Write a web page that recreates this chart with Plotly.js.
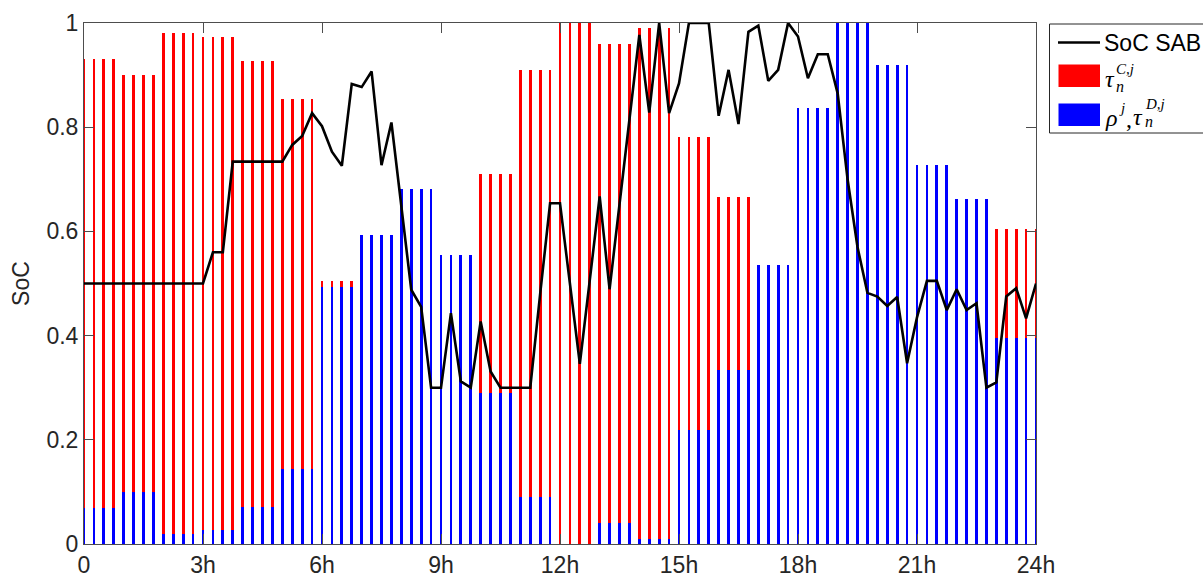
<!DOCTYPE html>
<html>
<head>
<meta charset="utf-8">
<script src="https://cdn.plot.ly/plotly-3.0.1.min.js"></script>
<style>
  html, body { margin: 0; padding: 0; background: #fff; }
  #chart { width: 1203px; height: 580px; }
</style>
</head>
<body>
<div id="chart"></div>
<script>
// Hourly charging window tops (tau^C) and discharging levels (rho / tau^D), hours 0..23
const hours = [0,1,2,3,4,5,6,7,8,9,10,11,12,13,14,15,16,17,18,19,20,21,22,23];
const chargeTop = [0.93, 0.90, 0.98, 0.973, 0.928, 0.855, 0.505, 0, 0, 0, 0.711, 0.909,
                   1.0, 0.959, 0.991, 0.781, 0.666, 0, 0, 0, 0, 0, 0, 0.605];
const dischargeTop = [0.07, 0.10, 0.02, 0.027, 0.071, 0.144, 0.494, 0.594, 0.682, 0.554, 0.289, 0.09,
                      0, 0.041, 0.009, 0.219, 0.334, 0.536, 0.836, 1.0, 0.919, 0.727, 0.662, 0.395];

// State of charge every 15 minutes, 0h..24h
const socTime = [];
for (let k = 0; k <= 96; k++) socTime.push(k / 4);
const soc = [
  0.50, 0.50, 0.50, 0.50, 0.50, 0.50, 0.50, 0.50, 0.50, 0.50, 0.50, 0.50,
  0.50, 0.56, 0.56, 0.734, 0.734, 0.734, 0.734, 0.734, 0.734, 0.766, 0.783, 0.827,
  0.802, 0.753, 0.726, 0.883, 0.877, 0.907, 0.727, 0.809, 0.65, 0.488, 0.455, 0.30,
  0.30, 0.443, 0.312, 0.30, 0.427, 0.331, 0.30, 0.30, 0.30, 0.30, 0.48, 0.654,
  0.654, 0.50, 0.346, 0.506, 0.667, 0.489, 0.652, 0.814, 0.977, 0.828, 1.0, 0.827,
  0.884, 1.0, 1.0, 1.0, 0.822, 0.91, 0.806, 0.983, 0.995, 0.889, 0.91, 1.0,
  0.974, 0.894, 0.94, 0.94, 0.865, 0.70, 0.57, 0.482, 0.475, 0.457, 0.474, 0.347,
  0.435, 0.505, 0.505, 0.449, 0.489, 0.449, 0.462, 0.30, 0.31, 0.475, 0.491, 0.433,
  0.50
];

const xTickVals = [0, 3, 6, 9, 12, 15, 18, 21, 24];
const xTickText = ['0', '3h', '6h', '9h', '12h', '15h', '18h', '21h', '24h'];
const yTickVals = [0, 0.2, 0.4, 0.6, 0.8, 1];
const yTickText = ['0', '0.2', '0.4', '0.6', '0.8', '1'];

// Each hourly value is held over its four quarter-hour slots; the slot at 24h repeats hour 23
const barX = [], barCharge = [], barDischarge = [];
for (let k = 0; k <= 96; k++) {
  const h = Math.min(Math.floor(k / 4), hours.length - 1);
  barX.push(k / 4);
  barCharge.push(chargeTop[h]);
  barDischarge.push(dischargeTop[h]);
}

const W = 1203, H = 580;
const M = { l: 84, r: 167, t: 23, b: 36 };
const plotW = W - M.l - M.r, plotH = H - M.t - M.b;
const px = v => (v - M.l) / plotW;      // pixel column -> paper x
const py = v => (H - M.b - v) / plotH;  // pixel row -> paper y

const axisFont = { family: 'Liberation Sans, Arial, sans-serif', size: 23, color: '#262626' };
const mathFont = (s) => ({ family: 'Liberation Serif, DejaVu Serif, serif', size: s, color: '#000' });

const traces = [
  {
    type: 'bar', x: barX, y: barCharge, width: 0.07,
    marker: { color: '#ff0000', line: { width: 0 } },
    showlegend: false, hoverinfo: 'x+y'
  },
  {
    type: 'bar', x: barX, y: barDischarge, width: 0.07,
    marker: { color: '#0000ff', line: { width: 0 } },
    showlegend: false, hoverinfo: 'x+y'
  },
  {
    type: 'scatter', mode: 'lines', x: socTime, y: soc,
    line: { color: '#000000', width: 2.6 },
    showlegend: false
  }
];

const legendShapes = [
  { type: 'rect', xref: 'paper', yref: 'paper', x0: px(1049.5), x1: px(1215), y0: py(133), y1: py(24),
    line: { color: '#262626', width: 1 }, fillcolor: '#ffffff', layer: 'above' },
  { type: 'line', xref: 'paper', yref: 'paper', x0: px(1058), x1: px(1100), y0: py(42.5), y1: py(42.5),
    line: { color: '#000000', width: 2.6 }, layer: 'above' },
  { type: 'rect', xref: 'paper', yref: 'paper', x0: px(1058.5), x1: px(1100), y0: py(87), y1: py(64.5),
    line: { width: 0 }, fillcolor: '#ff0000', layer: 'above' },
  { type: 'rect', xref: 'paper', yref: 'paper', x0: px(1058.5), x1: px(1100), y0: py(126), y1: py(103.5),
    line: { width: 0 }, fillcolor: '#0000ff', layer: 'above' }
];

const ann = (x, y, text, font) => ({
  xref: 'paper', yref: 'paper', x: px(x), y: py(y), xanchor: 'left', yanchor: 'middle',
  text: text, showarrow: false, font: font
});

const legendText = [
  ann(1102, 43, 'SoC SAB', { family: 'Liberation Sans, Arial, sans-serif', size: 23, color: '#000' }),
  ann(1103, 79, '<i>τ</i>', mathFont(24)),
  ann(1114, 69, '<i>C,j</i>', mathFont(15)),
  ann(1114, 86, '<i>n</i>', mathFont(16)),
  ann(1103, 118, '<i>ρ</i>', mathFont(24)),
  ann(1117, 108, '<i>j</i>', mathFont(15)),
  ann(1124, 119, ',', mathFont(24)),
  ann(1131, 117, '<i>τ</i>', mathFont(24)),
  ann(1143, 104, '<i>D,j</i>', mathFont(15)),
  ann(1143, 122, '<i>n</i>', mathFont(16))
];

const layout = {
  width: W, height: H,
  margin: M,
  paper_bgcolor: '#ffffff', plot_bgcolor: '#ffffff',
  barmode: 'overlay', bargap: 0,
  showlegend: false,
  xaxis: {
    range: [0, 24], tickmode: 'array', tickvals: xTickVals, ticktext: xTickText,
    ticks: 'inside', ticklen: 10, tickwidth: 1, tickcolor: '#4d4d4d',
    showline: true, linecolor: '#4d4d4d', linewidth: 1, mirror: 'ticks',
    showgrid: false, zeroline: false, tickfont: axisFont, fixedrange: true
  },
  yaxis: {
    range: [0, 1], tickmode: 'array', tickvals: yTickVals, ticktext: yTickText,
    ticks: 'inside', ticklen: 10, tickwidth: 1, tickcolor: '#4d4d4d',
    showline: true, linecolor: '#4d4d4d', linewidth: 1, mirror: 'ticks',
    showgrid: false, zeroline: false, tickfont: axisFont, fixedrange: true,
    title: { text: 'SoC', font: axisFont, standoff: 10 }
  },
  shapes: legendShapes,
  annotations: legendText
};

Plotly.newPlot('chart', traces, layout, { displayModeBar: false, staticPlot: true });
</script>
</body>
</html>
